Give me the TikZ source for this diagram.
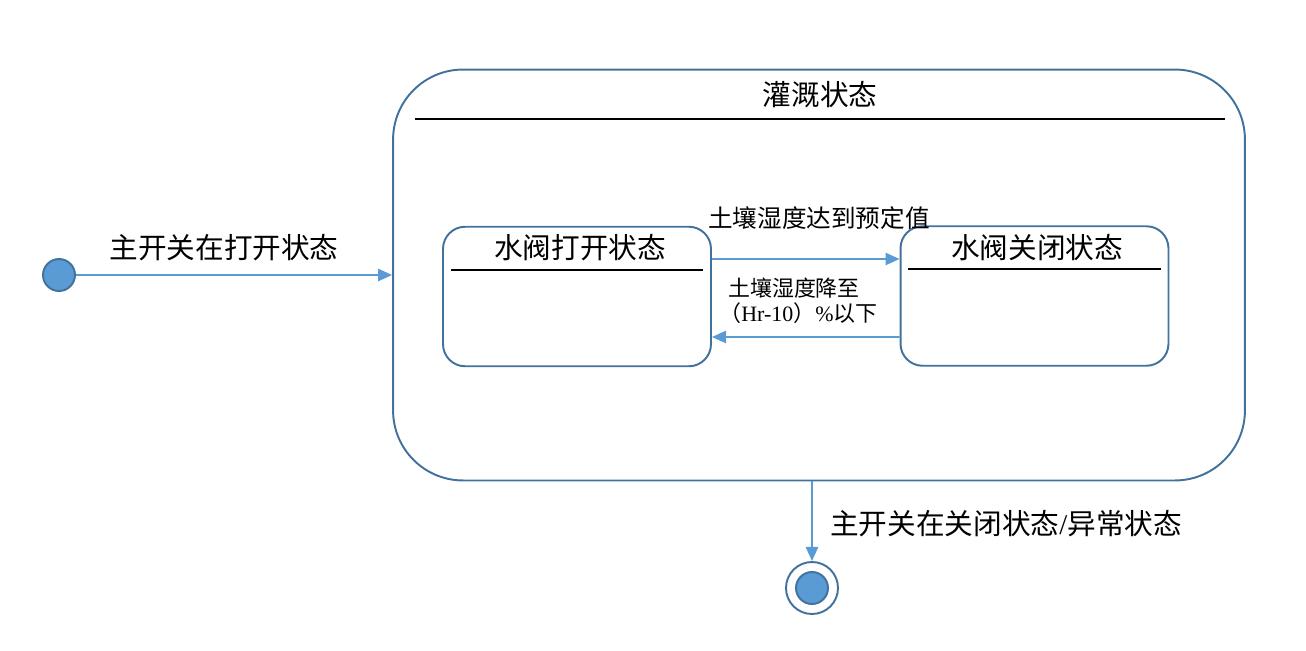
\documentclass[tikz,border=0pt]{standalone}
\usepackage{fontspec}
\usepackage{tikz}
\usetikzlibrary{arrows.meta}
\newfontfamily\cjk{Noto Sans CJK SC}
\newfontfamily\latin{Liberation Serif}
\definecolor{linkblue}{RGB}{91,155,213}
\definecolor{edgeblue}{RGB}{65,113,156}

\begin{document}
\begin{tikzpicture}[x=0.02cm, y=-0.02cm,
	statebox/.style={draw=edgeblue, line width=1.1pt, rounded corners=0.44cm,
		minimum width=5.36cm, minimum height=2.79cm, inner sep=0pt},
	flow/.style={draw=linkblue, line width=1pt, -{Triangle[length=8pt, width=7pt]}},
	dot/.style={circle, fill=linkblue, draw=edgeblue, line width=1.1pt,
		minimum size=0.64cm, inner sep=0pt},
	bigtext/.style={font=\cjk\fontsize{16.3}{19}\selectfont, inner sep=0pt},
	smalltext/.style={font=\cjk\fontsize{12.5}{14.4}\selectfont, inner sep=0pt}]
		\useasboundingbox (0,0) rectangle (1306,650);

		% states
		\node[dot] (init) at (59,275) {};
		\node[draw=edgeblue, line width=1.1pt, rounded corners=1.4cm,
			minimum width=17.04cm, minimum height=8.22cm] (irrig) at (819,275) {};
		\node[statebox] (open) at (577,296.5) {};
		\node[statebox] (close) at (1034.5,296) {};
		\node[circle, draw=edgeblue, line width=1.1pt, fill=white,
			minimum size=1.04cm, inner sep=0pt] (final) at (812,588) {};
		\node[dot] (finaldot) at (final) {};

		% titles
		\node[bigtext] (irrigtitle) at (820,95) {灌溉状态};
		\draw[line width=1.1pt] ([shift={(23,50)}]irrig.north west) -- ([shift={(-21,50)}]irrig.north east);
		\node[bigtext] (opentitle) at (580,248) {水阀打开状态};
		\draw[line width=1.1pt] ([shift={(9,44)}]open.north west) -- ([shift={(-9,44)}]open.north east);
		\node[bigtext] (closetitle) at (1037,248) {水阀关闭状态};
		\draw[line width=1.1pt] ([shift={(8,44)}]close.north west) -- ([shift={(-8,44)}]close.north east);

		% transitions
		\draw[flow] (init) -- (irrig.west);
		\node[bigtext] (lblon) at (224,248) {主开关在打开状态};

		\draw[flow] ([yshift=0.75cm]open.east) -- ([yshift=0.74cm]close.west);
		\node[smalltext, font=\cjk\fontsize{14}{16}\selectfont] (lblreach) at (819,218) {土壤湿度达到预定值};

		\draw[flow] ([yshift=-0.82cm]close.west) -- ([yshift=-0.81cm]open.east);
		\node[smalltext, align=left, anchor=west] (lbldrop) at (719,301)
			{\hspace{5pt}土壤湿度降至\\（{\latin Hr-10}）{\latin\%}以下};

		\draw[flow] (irrig.south -| final.north) -- (final.north);
		\node[bigtext, anchor=west] (lbloff) at (830,524) {主开关在关闭状态{\latin /}异常状态};
	\end{tikzpicture}
\end{document}
